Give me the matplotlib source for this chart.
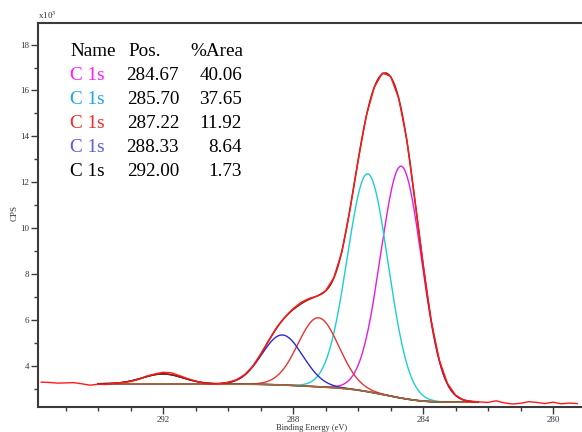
import numpy as np
import matplotlib
matplotlib.use("Agg")
import matplotlib.pyplot as plt
from matplotlib.ticker import MultipleLocator

plt.rcParams["font.family"] = ["Liberation Serif", "DejaVu Serif"]
plt.rcParams["mathtext.fontset"] = "stix"

# Measured C 1s spectrum (binding energy in eV, counts in 10^3 CPS)
energy = np.arange(295.75, 279.0, -0.25)
counts = [3.30, 3.29, 3.26, 3.27, 3.28, 3.23, 3.17, 3.21, 3.20, 3.26,
          3.28, 3.33, 3.42, 3.57, 3.66, 3.73, 3.71, 3.59, 3.46, 3.35,
          3.25, 3.21, 3.24, 3.30, 3.40, 3.62, 3.98, 4.52, 5.12, 5.70,
          6.14, 6.50, 6.78, 6.95, 7.05, 7.28, 7.84, 8.96, 10.80, 12.92,
          14.88, 16.14, 16.76, 16.62, 15.66, 13.86, 11.22, 8.47, 5.98, 4.27,
          3.25, 2.74, 2.52, 2.47, 2.44, 2.42, 2.49, 2.40, 2.35, 2.38,
          2.45, 2.42, 2.37, 2.43, 2.36, 2.39, 2.37]

# Peak-fit components
names = ["C 1s", "C 1s", "C 1s", "C 1s", "C 1s"]
positions = [284.67, 285.70, 287.22, 288.33, 292.00]
area_pct = [40.06, 37.65, 11.92, 8.64, 1.73]
line_colors = ["#E21DE2", "#1CCFCF", "#E53535", "#2A2AD8", "#000000"]
text_colors = ["#FF1AFF", "#1AA6E6", "#F02A2A", "#5B5BE0", "#000000"]

fwhm = 1.48            # eV, common to all components
total_area = 39.7      # 10^3 CPS * eV
bg_high, bg_low = 3.23, 2.43
fit_range = (282.3, 294.0)

# Component line shapes on a fine grid over the fit region
e_fit = np.linspace(fit_range[0], fit_range[1], 800)
peaks = []
for pos, pct in zip(positions, area_pct):
    height = total_area * pct / 100.0 / (fwhm * 1.0645)
    peaks.append(height * np.exp(-4 * np.log(2) * ((e_fit - pos) / fwhm) ** 2))
peaks = np.array(peaks)
peak_sum = peaks.sum(axis=0)

# Shirley-type background: steps in proportion to the peak area below each energy
cum = np.cumsum(peak_sum)
background = bg_low + (bg_high - bg_low) * cum / cum[-1]
envelope = background + peak_sum

W, H = 582, 432
fig = plt.figure(figsize=(W / 100, H / 100), dpi=100)
fig.patch.set_facecolor("white")

x_left, x_right = 295.85, 278.5
ax = fig.add_axes([38 / W, (H - 407) / H, (601.75 - 38) / W, (407 - 22.5) / H])
ax.set_xlim(x_left, x_right)
ax.set_ylim(2.22, 18.96)

for comp, col in zip(peaks, line_colors):
    ax.plot(e_fit, background + comp, color=col, lw=1.0, zorder=2)
ax.plot(e_fit, background, color="#A5683A", lw=1.3, zorder=3)
ax.plot(e_fit, envelope, color="#8E2012", lw=1.1, zorder=4)
ax.plot(energy, counts, color="#FF1A1A", lw=1.0, zorder=5)

# Axes styling
ax.spines["right"].set_visible(False)
for side in ("top", "left", "bottom"):
    ax.spines[side].set_color("#3A3A3A")
    ax.spines[side].set_linewidth(1.5)

ax.xaxis.set_minor_locator(MultipleLocator(1))
ax.yaxis.set_minor_locator(MultipleLocator(1))
ax.set_yticks(np.arange(4, 19, 2))
ax.set_yticklabels([str(v) for v in range(4, 19, 2)])
ax.set_xticks([292, 288, 284, 280])
ax.set_xticklabels(["292", "288", "284", "280"])
ax.tick_params(axis="both", which="major", direction="out", length=5,
               width=1.0, color="#3A3A3A", labelsize=6.5, labelcolor="#353540", pad=1.5)
ax.tick_params(axis="both", which="minor", direction="out", length=3,
               width=1.0, color="#3A3A3A")

# Axis titles
fig.text(47 / W, 1 - 15 / H, r"x10$^{3}$", fontsize=6.5, ha="center", va="center",
         color="#303030")
fig.text(15 / W, 1 - 213 / H, "CPS", fontsize=6.5, rotation=90, ha="center",
         va="center", color="#303030")
fig.text(312 / W, 1 - 431.8 / H, "Binding Energy (eV)", fontsize=6, ha="center",
         va="bottom", color="#303030")

# Component table
fs = 13.8
def fig_xy(px, py):
    return px / W, 1 - py / H

fig.text(*fig_xy(70, 56), "Name", fontsize=fs, ha="left", va="baseline")
fig.text(*fig_xy(128, 56), "Pos.", fontsize=fs, ha="left", va="baseline")
fig.text(*fig_xy(243, 56), "%Area", fontsize=fs, ha="right", va="baseline")
for i, (nm, pos, pct, tc) in enumerate(zip(names, positions, area_pct, text_colors)):
    yb = 80 + 24 * i
    fig.text(*fig_xy(70, yb), nm, fontsize=fs, ha="left", va="baseline", color=tc)
    fig.text(*fig_xy(179, yb), f"{pos:.2f}", fontsize=fs, ha="right", va="baseline")
    fig.text(*fig_xy(242, yb), f"{pct:.2f}", fontsize=fs, ha="right", va="baseline")

fig.savefig("out.png", dpi=100)
